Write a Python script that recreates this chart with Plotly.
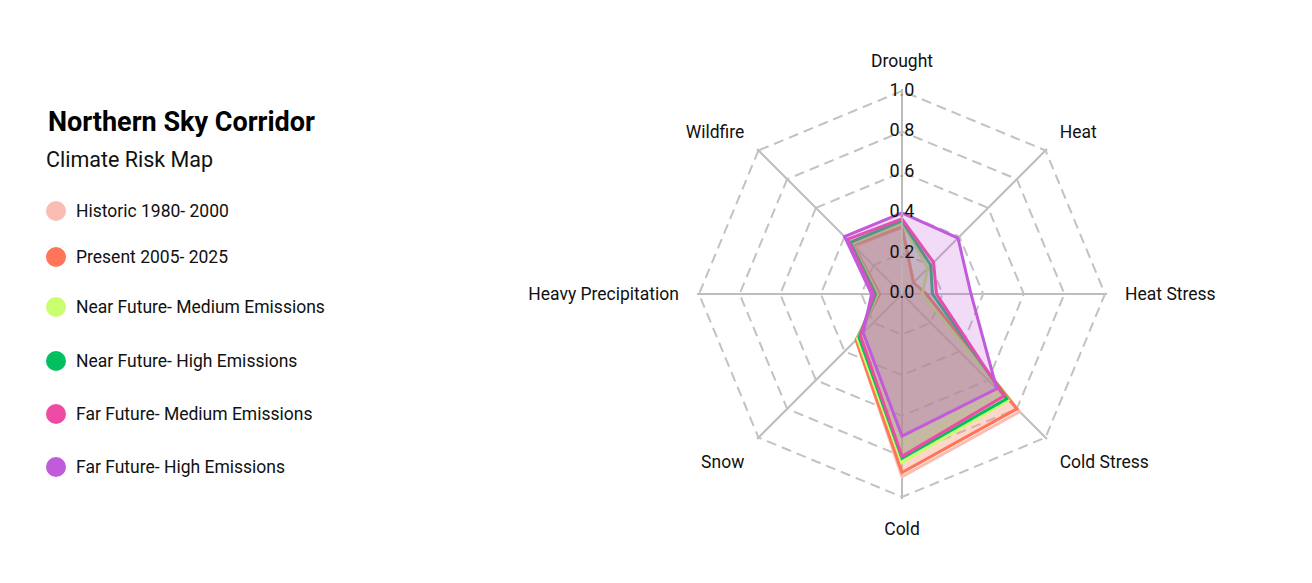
import plotly.graph_objects as go

# risk categories, clockwise from the top
categories = ["Drought", "Heat", "Heat Stress", "Cold Stress", "Cold",
              "Snow", "Heavy Precipitation", "Wildfire"]

historic = [0.33, 0.08, 0.12, 0.82, 0.90, 0.32, 0.11, 0.33]
present = [0.33, 0.08, 0.12, 0.80, 0.88, 0.32, 0.11, 0.34]
near_medium = [0.35, 0.18, 0.10, 0.74, 0.83, 0.31, 0.12, 0.35]
near_high = [0.36, 0.20, 0.15, 0.73, 0.81, 0.30, 0.13, 0.36]
far_medium = [0.37, 0.22, 0.17, 0.71, 0.80, 0.29, 0.14, 0.38]
far_high = [0.40, 0.39, 0.34, 0.66, 0.70, 0.27, 0.15, 0.40]

series_names = ["Historic 1980- 2000", "Present 2005- 2025",
                "Near Future- Medium Emissions", "Near Future- High Emissions",
                "Far Future- Medium Emissions", "Far Future- High Emissions"]
series_values = [historic, present, near_medium, near_high, far_medium, far_high]
colors = ["#F9BDB3", "#FF7558", "#C9FF6E", "#00C060", "#EE4BA5", "#C05CDB"]

tick_vals = [0.0, 0.2, 0.4, 0.6, 0.8, 1.0]
tick_text = ["0.0", "0.2", "0.4", "0.6", "0.8", "1.0"]

FONT = "Roboto"
W, H = 1304, 575   # page body keeps an 8px margin
R_MAX = 1.01       # a little headroom so the 1.0 grid ring is drawn


def px_x(x):
    # reference pixel -> paper fraction
    return (x - 8) / W


def px_y(y):
    return 1 - (y - 8) / H


def rgba(hex_color, alpha):
    h = hex_color.lstrip("#")
    r, g, b = int(h[0:2], 16), int(h[2:4], 16), int(h[4:6], 16)
    return f"rgba({r},{g},{b},{alpha})"


fig = go.Figure()

for name, vals, col in zip(series_names, series_values, colors):
    fig.add_trace(go.Scatterpolar(
        r=vals + vals[:1],
        theta=categories + categories[:1],
        name=name,
        mode="lines",
        line=dict(color=col, width=3),
        fill="toself",
        fillcolor=rgba(col, 0.22),
        showlegend=False,
    ))

# radial tick labels sit centred on the vertical axis
# (r=0 is nudged so plotly does not drop the centre label)
fig.add_trace(go.Scatterpolar(
    r=[max(v, 0.0005) for v in tick_vals],
    theta=[categories[0]] * len(tick_vals),
    mode="text",
    text=tick_text,
    textposition="middle center",
    textfont=dict(family=FONT, size=18, color="#111111"),
    cliponaxis=False,
    showlegend=False,
    hoverinfo="skip",
))

# centre (902, 294), radius 203 px for r = 1.0 in the reference
cx, cy, rad = 902, 294, 203 * R_MAX
fig.update_layout(
    width=W,
    height=H,
    margin=dict(l=0, r=0, t=0, b=0),
    paper_bgcolor="white",
    plot_bgcolor="white",
    font=dict(family=FONT, size=17.5, color="#111111"),
    polar=dict(
        domain=dict(x=[px_x(cx - rad), px_x(cx + rad)],
                    y=[px_y(cy + rad), px_y(cy - rad)]),
        bgcolor="rgba(0,0,0,0)",
        gridshape="linear",
        radialaxis=dict(
            range=[0, R_MAX],
            tickvals=tick_vals,
            showticklabels=False,
            ticks="",
            angle=90,
            showline=True,
            linecolor="#bdbdbd",
            linewidth=1.5,
            gridcolor="#c2c2c2",
            gridwidth=2,
            griddash="10px,6px",
        ),
        angularaxis=dict(
            rotation=90,
            direction="clockwise",
            showline=False,
            gridcolor="#bdbdbd",
            gridwidth=1.5,
            ticks="outside",
            ticklen=14,
            tickcolor="rgba(0,0,0,0)",
            tickfont=dict(family=FONT, size=17.5, color="#111111"),
        ),
    ),
)

# title block and legend on the left
annotations = [
    dict(text="<b>Northern Sky Corridor</b>", x=px_x(46), y=px_y(122),
         font=dict(family=FONT, size=27, color="#000000")),
    dict(text="Climate Risk Map", x=px_x(44), y=px_y(159),
         font=dict(family=FONT, size=21.5, color="#111111")),
]
legend_y = [211, 257, 307, 361, 414, 467]
shapes = []
for name, col, py in zip(series_names, colors, legend_y):
    annotations.append(dict(text=name, x=px_x(74), y=px_y(py),
                            font=dict(family=FONT, size=17.5, color="#111111")))
    shapes.append(dict(type="circle", xref="paper", yref="paper",
                       x0=px_x(46), x1=px_x(66),
                       y0=px_y(py + 10), y1=px_y(py - 10),
                       fillcolor=col, line=dict(width=0)))

for a in annotations:
    fig.add_annotation(xref="paper", yref="paper", xanchor="left",
                       yanchor="middle", showarrow=False, **a)
fig.update_layout(shapes=shapes)

fig.write_html("out.html")
